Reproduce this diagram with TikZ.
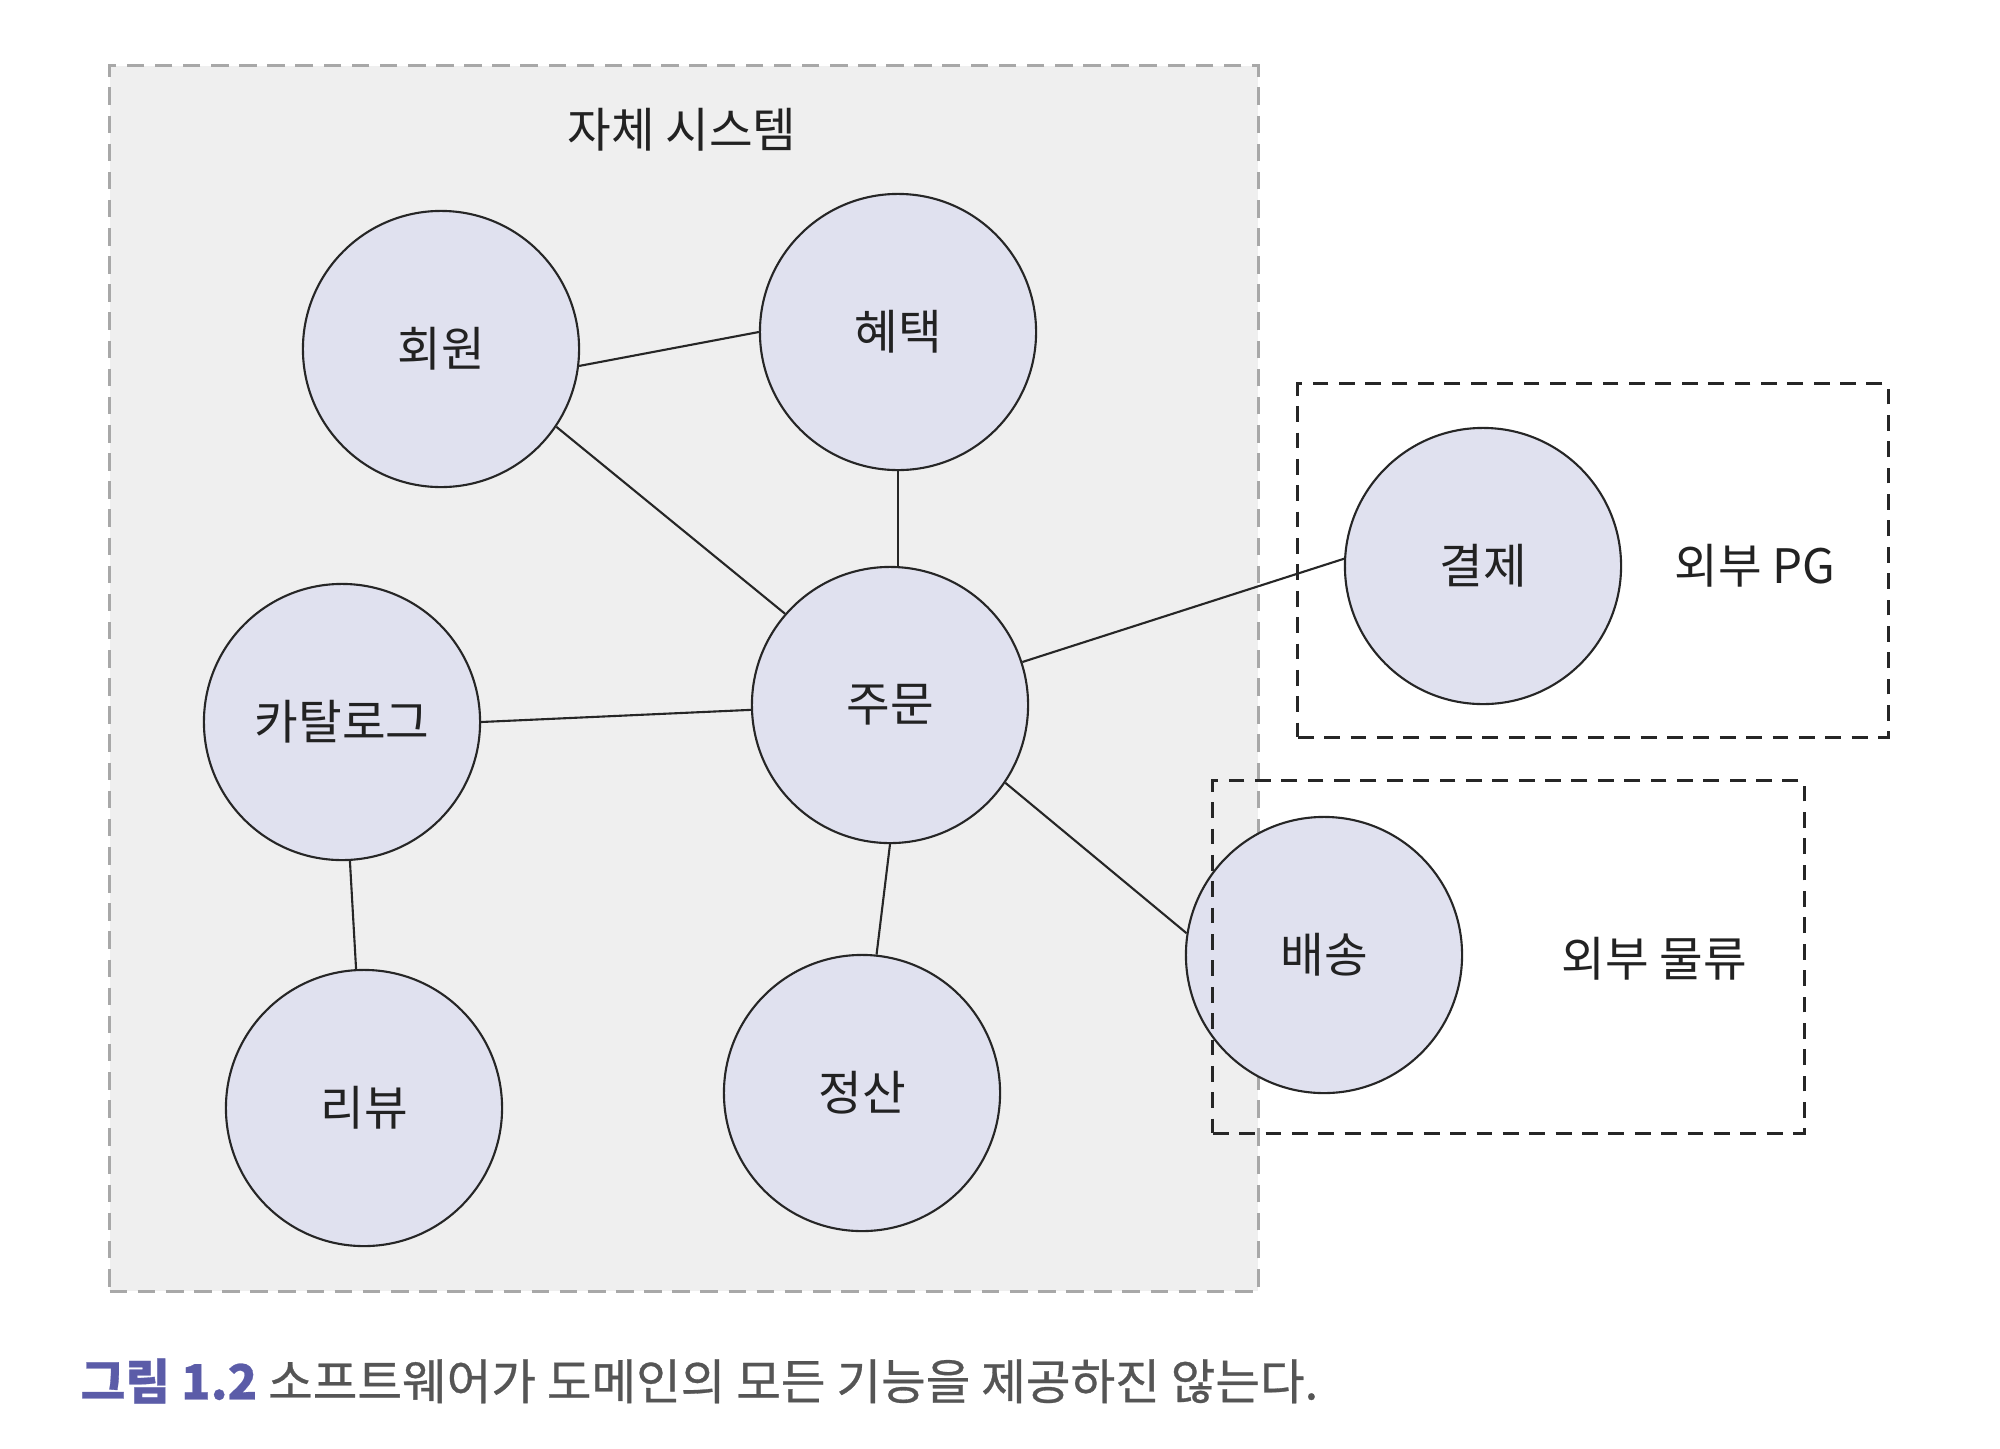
\documentclass[tikz,border=0pt]{standalone}
\usepackage{fontspec}
\setmainfont{Noto Sans CJK KR}
\newfontfamily\capfont[FakeBold=0.6]{Noto Sans CJK KR}
\definecolor{sysfill}{HTML}{EFEFEF}
\definecolor{sysborder}{HTML}{A8A8A8}
\definecolor{nodefill}{HTML}{E0E1EF}
\definecolor{txt}{HTML}{222222}
\definecolor{capblue}{HTML}{5B5CA8}
\definecolor{capgray}{HTML}{555555}
\tikzset{
  domcircle/.style={circle, draw=black!85, line width=0.6pt, fill=nodefill,
    minimum size=2.76cm, inner sep=0pt, font=\fontsize{13.5}{16}\selectfont, text=txt},
  link/.style={draw=black!85, line width=0.6pt},
  sysbox/.style={draw=sysborder, fill=sysfill, line width=0.7pt,
    dash pattern=on 5pt off 3pt, inner sep=0pt},
  extbox/.style={draw=black!85, line width=0.9pt, dash pattern=on 4.5pt off 3pt, inner sep=0pt},
  lbl/.style={font=\fontsize{13.5}{16}\selectfont, text=txt, inner sep=0pt}
}
\begin{document}
\begin{tikzpicture}[x=0.01cm,y=-0.01cm]
\useasboundingbox[fill=white] (0,0) rectangle (2000,1448);
% system box
\node[sysbox, minimum width=11.48cm, minimum height=12.25cm] (sys) at (684,678.5) {};
\node[lbl] (systitle) at (682,130) {자체 시스템};
% domain circles
\node[domcircle] (member) at (441,349) {회원};
\node[domcircle] (benefit) at (898,332) {혜택};
\node[domcircle] (catalog) at (342,722) {카탈로그};
\node[domcircle] (order) at (890,705) {주문};
\node[domcircle] (review) at (364,1108) {리뷰};
\node[domcircle] (settle) at (862,1093) {정산};
\node[domcircle] (pay) at (1483,566) {결제};
\node[domcircle] (ship) at (1324,955) {배송};
% links
\draw[link] (member.-7) -- (benefit.180);
\draw[link] (member.-34) -- (order.139);
\draw[link] (benefit.south) -- (order.north -| benefit.south);
\draw[link] (catalog.east) -- (order.182);
\draw[link] (catalog) -- (review);
\draw[link] (order.-90.5) -- (settle.84);
\draw[link] (order.18) -- (pay.177);
\draw[link] (order.-34) -- (ship.171);
% external boxes
\node[extbox, minimum width=5.9cm, minimum height=3.53cm] (pgbox) at (1593,560.5) {};
\node[extbox, minimum width=5.91cm, minimum height=3.52cm] (logbox) at (1508.5,957) {};
\node[lbl] (pglabel) at (1755,566) {외부 PG};
\node[lbl] (loglabel) at (1654,959) {외부 물류};
% caption
\node[anchor=west, inner sep=0pt, font=\capfont\fontsize{13.8}{16}\selectfont] (caption) at (80,1381)
  {\textcolor{capblue}{\bfseries 그림 1.2} \textcolor{capgray}{소프트웨어가 도메인의 모든 기능을 제공하진 않는다.}};
\end{tikzpicture}
\end{document}
